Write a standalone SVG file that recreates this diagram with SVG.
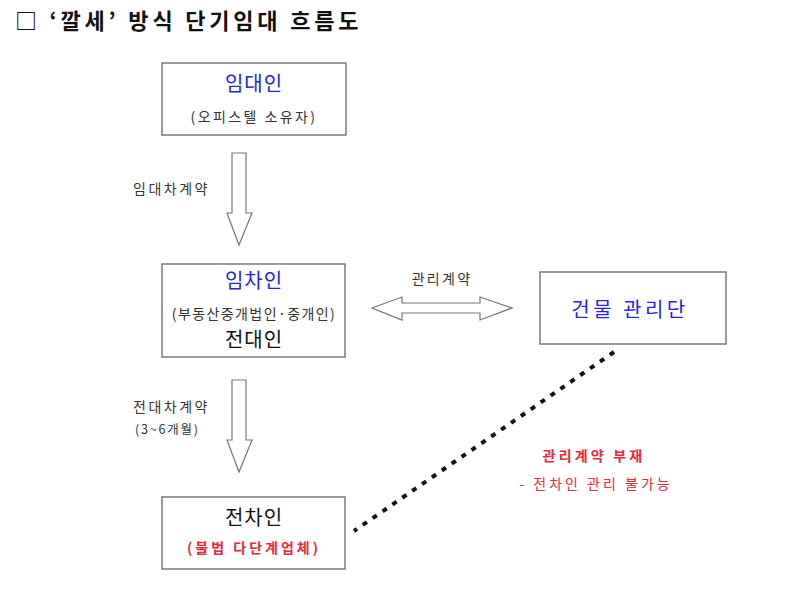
<svg xmlns="http://www.w3.org/2000/svg" width="800" height="599" viewBox="0 0 800 599">
<style>
text{font-family:"Noto Sans CJK KR","Liberation Sans",sans-serif;}
.box{fill:#fff;stroke:#666;stroke-width:1.3;}
.arr{fill:#fff;stroke:#777;stroke-width:1.2;}
.title{font-size:22px;font-weight:bold;fill:#111;letter-spacing:3.8px;}
.main{font-size:20px;text-anchor:middle;letter-spacing:1px;}
.blue{fill:#2424e6;}
.blk{fill:#111;}
.sub{font-size:14px;text-anchor:middle;fill:#333;}
.lbl{font-size:14px;fill:#333;letter-spacing:2.5px;}
.red{fill:#e8283a;}
</style>
<rect width="800" height="599" fill="#fff"/>
<text class="title" x="15" y="29">□ ‘깔세’ 방식 단기임대 흐름도</text>
<g id="connectors">
<polygon class="arr" points="232,153 246,153 246,213 252,213 239,245 227,213 232,213"/>
<polygon class="arr" points="232,380 246,380 246,440 252,440 239,472 227,440 232,440"/>
<polygon class="arr" points="372,308 402,297 402,303 480,303 480,297 512,308 480,320 480,313 402,313 402,320"/>
<line x1="614" y1="352" x2="354" y2="531" stroke="#111" stroke-width="4" stroke-dasharray="5 7"/>
<text class="lbl" x="133" y="194">임대차계약</text>
<text class="lbl" x="442" y="284" text-anchor="middle" style="letter-spacing:2.3px">관리계약</text>
<text class="lbl" x="133" y="412">전대차계약</text>
<text class="lbl" x="135" y="434" style="font-size:12.5px;letter-spacing:1.8px">(3~6개월)</text>
</g>
<g id="node-lessor">
<rect class="box" x="162" y="63" width="184" height="72"/>
<text class="main blue" x="254" y="91">임대인</text>
<text class="sub" x="254" y="122" style="letter-spacing:2.4px">(오피스텔 소유자)</text>
</g>
<g id="node-lessee">
<rect class="box" x="162" y="264" width="183" height="93"/>
<text class="main blue" x="254" y="288">임차인</text>
<text class="sub" x="254" y="319" style="letter-spacing:1.4px">(부동산중개법인·중개인)</text>
<text class="main blk" x="254" y="347">전대인</text>
</g>
<g id="node-management">
<rect class="box" x="540" y="272" width="186" height="72"/>
<text class="main blue" x="630" y="317" style="letter-spacing:3.5px">건물 관리단</text>
</g>
<g id="node-sublessee">
<rect class="box" x="162" y="497" width="183" height="72"/>
<text class="main blk" x="254" y="525">전차인</text>
<text class="sub red" x="254" y="553" style="font-weight:bold;letter-spacing:3px">(불법 다단계업체)</text>
</g>
<g id="note">
<text class="red" x="594" y="461" style="font-size:14px;font-weight:bold;letter-spacing:3.2px" text-anchor="middle">관리계약 부재</text>
<text class="red" x="596" y="489" style="font-size:14px;letter-spacing:3px" text-anchor="middle">- 전차인 관리 불가능</text>
</g>
</svg>
